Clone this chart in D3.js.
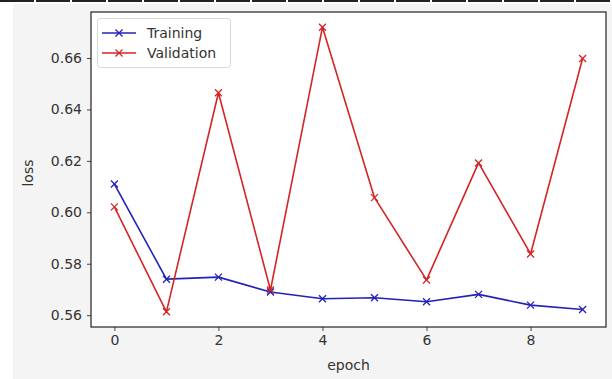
<!DOCTYPE html>
<html><head><meta charset="utf-8">
<script src="https://cdn.jsdelivr.net/npm/d3@7"></script>
<style>html,body{margin:0;padding:0;background:#fff;}svg{display:block;}</style>
</head><body>
<svg id="c" width="612" height="379"></svg>
<script>
const epochs = [0,1,2,3,4,5,6,7,8,9];
const training = [0.611,0.574,0.5748,0.569,0.5664,0.5668,0.5652,0.5681,0.5639,0.5622];
const validation = [0.6021,0.5613,0.6465,0.5698,0.672,0.6057,0.5737,0.6192,0.5838,0.6598];
const xTicks = [0,2,4,6,8];
const yTicks = [0.56,0.58,0.60,0.62,0.64,0.66];
const seriesNames = ["Training","Validation"];
const seriesColors = ["#2222bb","#d42424"];

const svg = d3.select("#c");
const W=612,H=379;
svg.append("rect").attr("x",0).attr("y",0).attr("width",W).attr("height",H).attr("fill","#ffffff");
svg.append("rect").attr("x",13).attr("y",4).attr("width",W-13).attr("height",H-4).attr("fill","#f4f4f4");
svg.append("line").attr("x1",0).attr("x2",W).attr("y1",1).attr("y2",1)
  .attr("stroke","#222").attr("stroke-width",2).attr("stroke-dasharray","34,2");

const L=91, R=606, T=12, B=327;
const x = d3.scaleLinear().domain([-0.45,9.45]).range([L,R]);
const y = d3.scaleLinear().domain([0.5554,0.6779]).range([B,T]);

svg.append("rect").attr("x",L).attr("y",T).attr("width",R-L).attr("height",B-T).attr("fill","#fff");

const font = "DejaVu Sans, sans-serif";
const fs = 14;
const xAxis = svg.append("g").attr("transform",`translate(0,${B})`)
  .call(d3.axisBottom(x).tickValues(xTicks).tickFormat(d3.format("d")).tickSize(4).tickPadding(4));
const yAxis = svg.append("g").attr("transform",`translate(${L},0)`)
  .call(d3.axisLeft(y).tickValues(yTicks).tickFormat(d3.format(".2f")).tickSize(4).tickPadding(5));
[xAxis,yAxis].forEach(a=>{
  a.select(".domain").remove();
  a.selectAll("line").attr("stroke","#333").attr("stroke-width",0.9);
  a.selectAll("text").attr("fill","#333").attr("font-family",font).attr("font-size",fs);
});

const line = d3.line().x((d,i)=>x(epochs[i])).y(d=>y(d));
const data = [training, validation];
data.forEach((s,k)=>{
  svg.append("path").datum(s).attr("d",line).attr("fill","none")
    .attr("stroke",seriesColors[k]).attr("stroke-width",1.6).attr("stroke-linejoin","round");
  const m = 3.5;
  svg.append("g").selectAll("path").data(s).join("path")
    .attr("d",(d,i)=>{const cx=x(epochs[i]),cy=y(d);return `M${cx-m},${cy-m}L${cx+m},${cy+m}M${cx-m},${cy+m}L${cx+m},${cy-m}`;})
    .attr("stroke",seriesColors[k]).attr("stroke-width",1.3);
});

svg.append("rect").attr("x",L).attr("y",T).attr("width",R-L).attr("height",B-T)
  .attr("fill","none").attr("stroke","#222").attr("stroke-width",1.2);

const lg = svg.append("g");
lg.append("rect").attr("x",97.5).attr("y",18.5).attr("width",133).attr("height",49).attr("rx",3)
  .attr("fill","#fff").attr("fill-opacity",0.85).attr("stroke","#d8d8d8").attr("stroke-width",1);
seriesNames.forEach((n,k)=>{
  const yy = 33 + k*20;
  lg.append("line").attr("x1",102).attr("x2",136).attr("y1",yy).attr("y2",yy)
    .attr("stroke",seriesColors[k]).attr("stroke-width",1.6);
  const m=3.5, cx=119;
  lg.append("path").attr("d",`M${cx-m},${yy-m}L${cx+m},${yy+m}M${cx-m},${yy+m}L${cx+m},${yy-m}`)
    .attr("stroke",seriesColors[k]).attr("stroke-width",1.3);
  lg.append("text").attr("x",147).attr("y",yy+5).text(n)
    .attr("font-family",font).attr("font-size",fs).attr("fill","#333");
});

svg.append("text").attr("x",(L+R)/2).attr("y",370).attr("text-anchor","middle")
  .attr("font-family",font).attr("font-size",fs).attr("fill","#333").text("epoch");
svg.append("text").attr("transform",`translate(33,173) rotate(-90)`).attr("text-anchor","middle")
  .attr("font-family",font).attr("font-size",fs).attr("fill","#333").text("loss");
</script>
</body></html>
